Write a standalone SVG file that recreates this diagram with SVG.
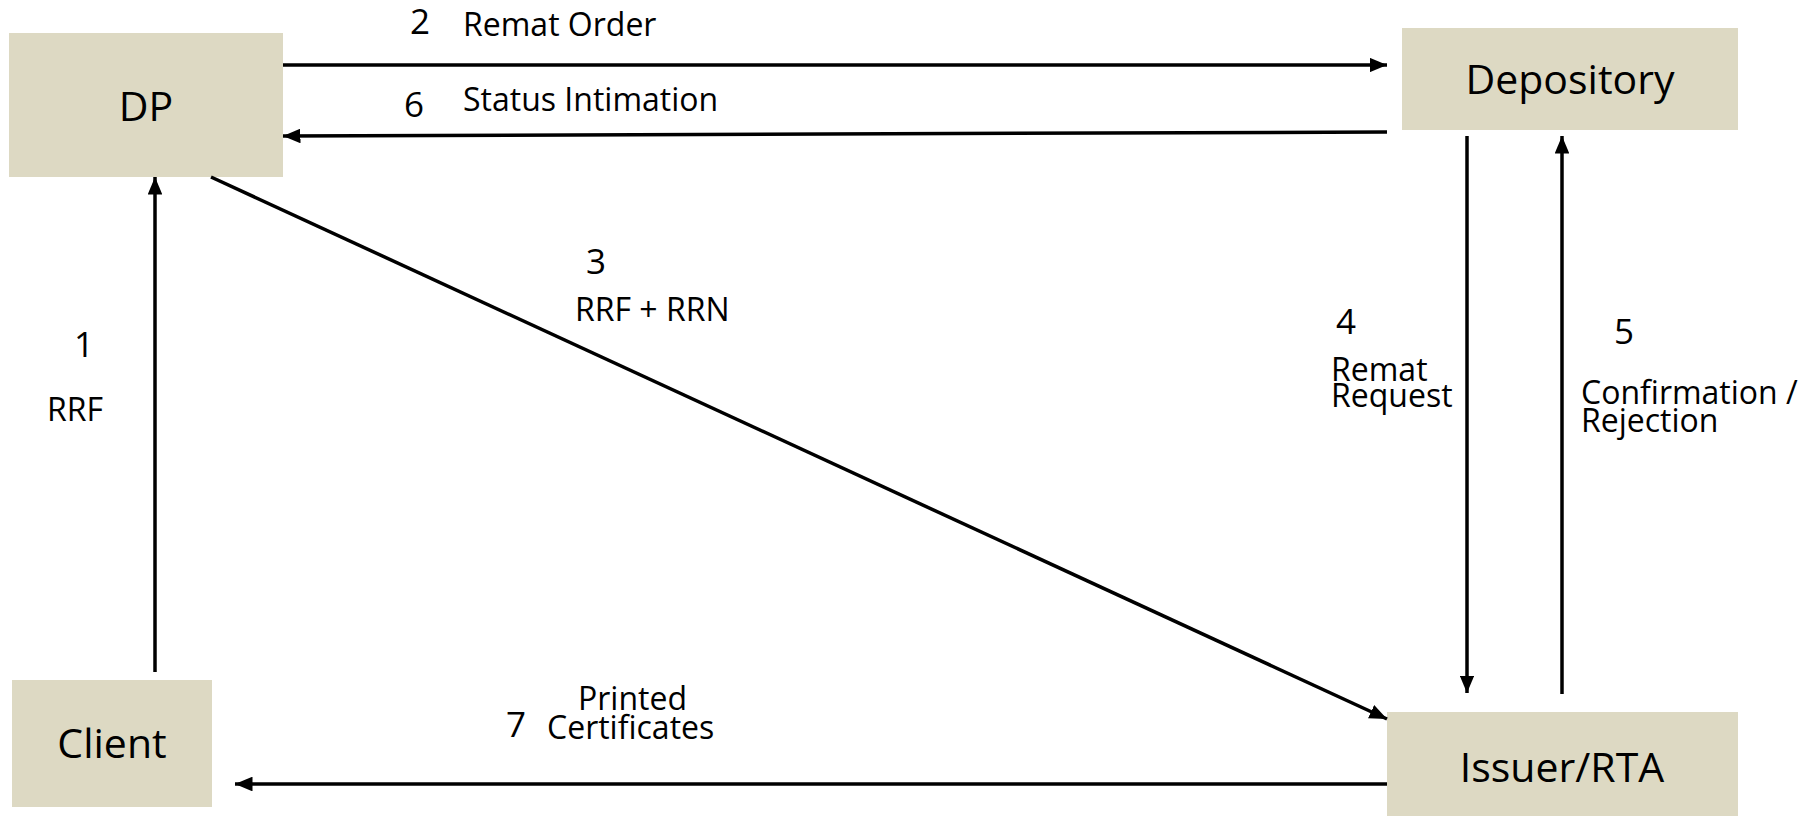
<svg xmlns="http://www.w3.org/2000/svg" width="1810" height="816" viewBox="0 0 1810 816">
<style>
.box{fill:#DDD9C3}
.nt{font-family:"Open Sans","Liberation Sans",sans-serif;font-size:41px;fill:#000;text-anchor:middle}
.lb{font-family:"Open Sans","Liberation Sans",sans-serif;font-size:32px;fill:#000}
.num{font-family:"Open Sans","Liberation Sans",sans-serif;font-size:35px;fill:#000}
.ln{stroke:#000;stroke-width:3.5;fill:none;marker-end:url(#ah)}
</style>
<defs>
<marker id="ah" viewBox="0 0 10 10" refX="10" refY="5" markerWidth="5" markerHeight="4.2" orient="auto" markerUnits="strokeWidth" preserveAspectRatio="none">
<path d="M0,0 L10,5 L0,10 z" fill="#000"/>
</marker>
</defs>
<rect width="1810" height="816" fill="#fff"/>
<g id="node-dp"><rect class="box" x="9" y="33" width="274" height="144"/><text class="nt" x="146" y="121">DP</text></g>
<g id="node-depository"><rect class="box" x="1402" y="28" width="336" height="102"/><text class="nt" x="1570" y="94">Depository</text></g>
<g id="node-client"><rect class="box" x="12" y="680" width="200" height="127"/><text class="nt" x="112" y="758">Client</text></g>
<g id="node-issuer"><rect class="box" x="1387" y="712" width="351" height="104"/><text class="nt" x="1562" y="782">Issuer/RTA</text></g>
<g id="connectors">
<line class="ln" x1="283" y1="65" x2="1387" y2="65"/>
<line class="ln" x1="1387" y1="132" x2="283" y2="136"/>
<line class="ln" x1="155" y1="672" x2="155" y2="177"/>
<line class="ln" x1="211" y1="177" x2="1387" y2="719"/>
<line class="ln" x1="1467" y1="136" x2="1467" y2="693"/>
<line class="ln" x1="1562" y1="694" x2="1562" y2="136"/>
<line class="ln" x1="1387" y1="784" x2="235" y2="784"/>
</g>
<g id="labels">
<text class="num" x="410" y="34">2</text>
<text class="lb" x="463" y="36">Remat Order</text>
<text class="num" x="404" y="117">6</text>
<text class="lb" x="463" y="111">Status Intimation</text>
<text class="num" x="586" y="274">3</text>
<text class="lb" x="575" y="321">RRF + RRN</text>
<text class="num" x="74" y="357">1</text>
<text class="lb" x="47" y="421">RRF</text>
<text class="num" x="1336" y="334">4</text>
<text class="lb" x="1331" y="381">Remat</text>
<text class="lb" x="1331" y="407">Request</text>
<text class="num" x="1614" y="344">5</text>
<text class="lb" x="1581" y="404">Confirmation /</text>
<text class="lb" x="1581" y="432">Rejection</text>
<text class="num" x="506" y="737">7</text>
<text class="lb" x="578" y="710">Printed</text>
<text class="lb" x="547" y="739">Certificates</text>
</g>
</svg>
